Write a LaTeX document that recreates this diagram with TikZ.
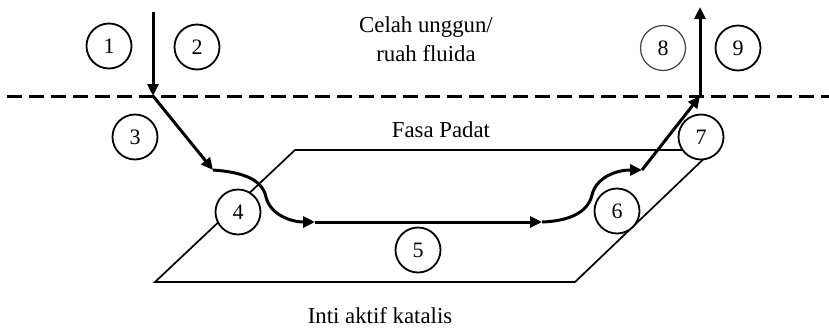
\documentclass[tikz,border=0pt]{standalone}
\usepackage{fontspec}
\setmainfont{Liberation Serif}
\usetikzlibrary{arrows.meta}
\begin{document}
\begin{tikzpicture}[x=0.5pt,y=-0.5pt,
  num/.style={circle,draw,line width=0.9pt,fill=white,minimum size=22.5pt,inner sep=0pt,font=\fontsize{11}{13}\selectfont},
  flow/.style={line width=1.5pt,-{Triangle[length=6pt,width=5.5pt]}},
  lbl/.style={font=\fontsize{11.4}{13}\selectfont,inner sep=0pt,anchor=base},
  plane/.style={line width=0.85pt,line join=miter}]
\useasboundingbox (0,0) rectangle (829,327);
% boundary between bulk fluid and solid phase
\coordinate (dl) at (7,96);
\coordinate (dr) at (829,96);
\draw[line width=1.5pt,dash pattern=on 7.5pt off 3.5pt] (dl) -- (dr);
% solid phase plane
\coordinate (pa) at (155,282);
\coordinate (pb) at (575,282);
\coordinate (pc) at (713,150);
\coordinate (pd) at (295,150);
\draw[plane] (pa) -- (pb) -- (pc) -- (pd) -- cycle;
% labels
\node[lbl] (t1) at (426,32) {Celah unggun/};
\node[lbl] (t2) at (426,61) {ruah fluida};
\node[lbl] (t3) at (441,137) {Fasa Padat};
\node[lbl] (t4) at (380,323) {Inti aktif katalis};
% numbered circles
\node[num] (n1) at (109,46) {1};
\node[num] (n2) at (197,47) {2};
\node[num] (n3) at (135,137) {3};
\node[num] (n4) at (238,212) {4};
\node[num] (n5) at (418,250) {5};
\node[num] (n6) at (617,211) {6};
\node[num] (n7) at (701,137) {7};
\node[num,draw=black!75,line width=0.6pt] (n8) at (663,48) {8};
\node[num] (n9) at (738,48) {9};
% flow path
\coordinate (q0) at (153,12);
\coordinate (q1) at (153,96);
\coordinate (q2) at (213,170);
\coordinate (c1) at (240,172);
\coordinate (c2) at (262,178);
\coordinate (m1) at (266,197);
\coordinate (c3) at (270,214);
\coordinate (c4) at (290,222);
\coordinate (q3) at (315,222);
\coordinate (q4) at (542,222);
\coordinate (c5) at (570,221);
\coordinate (c6) at (588,212);
\coordinate (m2) at (592,195);
\coordinate (c7) at (596,178);
\coordinate (c8) at (615,170);
\coordinate (q5) at (642,170);
\coordinate (q6) at (700,96);
\coordinate (q7) at (700,7);
\draw[flow] (q0) -- (q1);
\draw[flow] (q1) -- (q2);
\draw[flow] (q2) .. controls (c1) and (c2) .. (m1) .. controls (c3) and (c4) .. (q3);
\draw[flow] (q3) -- (q4);
\draw[flow] (q4) .. controls (c5) and (c6) .. (m2) .. controls (c7) and (c8) .. (q5);
\draw[flow] (q5) -- (q6);
\draw[flow] (q6) -- (q7);
\end{tikzpicture}
\end{document}
